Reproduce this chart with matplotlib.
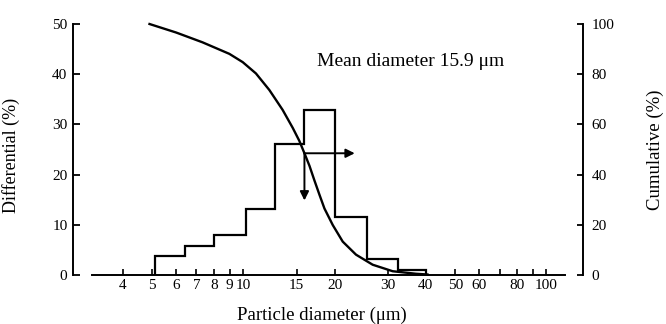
import numpy as np
import matplotlib.pyplot as plt
from matplotlib.ticker import NullLocator

plt.rcParams['font.family'] = ['Liberation Serif', 'DejaVu Serif']

# size classes (um) and percentage of particles in each class
bin_edges = [5.1, 6.4, 8.0, 10.2, 12.7, 15.9, 20.1, 25.6, 32.4, 40.0]
differential = [3.7, 5.7, 8.0, 13.2, 26.1, 32.9, 11.6, 3.1, 1.0]

# cumulative (oversize) curve
cum_diam = [4.9, 6.0, 7.33, 8.99, 9.95, 11.0, 12.18, 13.47, 14.55, 15.3, 15.9,
            16.52, 17.14, 17.82, 18.51, 19.72, 21.27, 23.53, 26.7, 31.09, 37.1, 40.5]
cum_pct = [100, 96.6, 92.7, 88.1, 84.8, 80.3, 73.7, 65.8, 58.6, 53.4, 48.5,
           43.5, 37.8, 32.0, 26.5, 19.9, 13.3, 8.1, 4.1, 1.5, 0.5, 0.2]

mean_diam = 15.9
mean_pct = 48.5
arrow_down_to = 29.7
arrow_right_to = 23.3

xticks = [4, 5, 6, 7, 8, 9, 10, 15, 20, 30, 40, 50, 60, 70, 80, 90, 100]
xticklabels = ['4', '5', '6', '7', '8', '9', '10', '15', '20', '30', '40', '50', '60',
               '', '80', '', '100']
left_ticks = [0, 10, 20, 30, 40, 50]
right_ticks = [0, 20, 40, 60, 80, 100]

W, H = 666, 324
fig = plt.figure(figsize=(W / 100, H / 100), dpi=100)
ax = fig.add_axes([73 / W, (H - 275) / H, 510 / W, 251 / H])

ax.set_xscale('log')
ax.set_xlim(2.74, 132)
ax.set_ylim(0, 50)
ax.stairs(differential, bin_edges, baseline=0, color='black', lw=1.6, clip_on=False)

ax.set_xticks(xticks)
ax.set_xticklabels(xticklabels)
ax.xaxis.set_minor_locator(NullLocator())
ax.set_yticks(left_ticks)
ax.tick_params(axis='x', direction='in', length=4, width=1.2, pad=3, labelsize=11)
ax.tick_params(axis='y', direction='in', length=5, width=1.3, pad=4, labelsize=11)

ax.spines['top'].set_visible(False)
ax.spines['right'].set_visible(False)
ax.spines['bottom'].set_bounds(3.16, 115)
ax.spines['left'].set_bounds(0, 50)
for s in ('bottom', 'left'):
    ax.spines[s].set_linewidth(1.4)

ax.set_xlabel('Particle diameter (μm)', fontsize=13.5)
ax.xaxis.set_label_coords(0.488, -0.128)
ax.set_ylabel('Differential (%)', fontsize=13)
ax.yaxis.set_label_coords(-0.104, 0.478)

ax2 = ax.twinx()
ax2.set_ylim(0, 100)
ax2.plot(cum_diam, cum_pct, color='black', lw=1.7, clip_on=False)
ax2.set_yticks(right_ticks)
ax2.tick_params(axis='y', direction='in', length=4, width=1.3, pad=6, labelsize=11)
for s in ('top', 'bottom', 'left'):
    ax2.spines[s].set_visible(False)
ax2.spines['right'].set_bounds(0, 100)
ax2.spines['right'].set_linewidth(1.4)
ax2.set_ylabel('Cumulative (%)', fontsize=13.5)
ax2.yaxis.set_label_coords(1.125, 0.498)

arrow = dict(arrowstyle='-|>', color='black', lw=1.4, mutation_scale=13,
             shrinkA=0, shrinkB=0)
ax2.annotate('', xy=(mean_diam, arrow_down_to), xytext=(mean_diam, mean_pct),
             arrowprops=arrow)
ax2.annotate('', xy=(arrow_right_to, mean_pct), xytext=(mean_diam, mean_pct),
             arrowprops=arrow)

ax.text(17.46, 42.5, f'Mean diameter {mean_diam} μm', fontsize=14,
        ha='left', va='center')

fig.savefig('out.png', dpi=100)
